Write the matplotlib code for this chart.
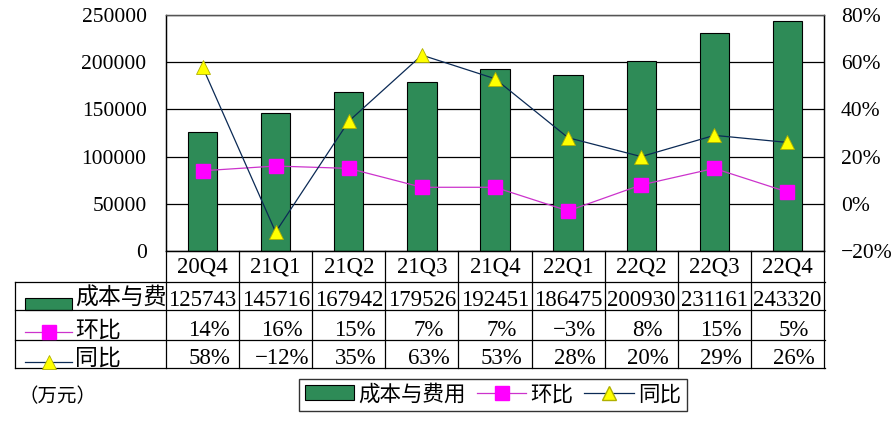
import matplotlib
matplotlib.use("Agg")
import matplotlib.pyplot as plt
import matplotlib.transforms as mtransforms
from matplotlib.lines import Line2D
from matplotlib.patches import Patch, Rectangle

plt.rcParams['font.family'] = ['Liberation Serif', 'Noto Sans CJK SC', 'DejaVu Sans']

quarters = ["20Q4", "21Q1", "21Q2", "21Q3", "21Q4", "22Q1", "22Q2", "22Q3", "22Q4"]
cost = [125743, 145716, 167942, 179526, 192451, 186475, 200930, 231161, 243320]
qoq = [14, 16, 15, 7, 7, -3, 8, 15, 5]
yoy = [58, -12, 35, 63, 53, 28, 20, 29, 26]
left_ticks = [0, 50000, 100000, 150000, 200000, 250000]
right_ticks = [-20, 0, 20, 40, 60, 80]

W, H = 893, 438
BAR_C = "#2E8B57"
QOQ_LINE = "#CC33CC"
QOQ_MARK = "#FF00FF"
YOY_LINE = "#0B2A55"
YOY_MARK = "#FFFF00"
TFS = 16.5

def fx(x): return x / W
def fy(y): return 1 - y / H

fig = plt.figure(figsize=(W / 100, H / 100), dpi=100)
ax = fig.add_axes([fx(166), fy(251), fx(824) - fx(166), fy(15) - fy(251)])
x = list(range(len(quarters)))
ax.bar(x, cost, width=0.4, color=BAR_C, edgecolor="black", linewidth=0.8, zorder=2)
ax.set_xlim(-0.5, len(quarters) - 0.5)
ax.set_ylim(0, 250000)
ax.set_yticks(left_ticks)
ax.set_yticklabels([str(v) for v in left_ticks], fontsize=15.5)
ax.tick_params(axis='y', length=0, pad=14)
ax.set_xticks([])
ax.grid(axis='y', color='black', linewidth=0.9, zorder=0)
for s in ['top', 'right', 'bottom', 'left']:
    ax.spines[s].set_linewidth(0.9)
ax.spines['top'].set_color('#555555')

ax2 = ax.twinx()
ax2.set_ylim(-20, 80)
ax2.set_yticks(right_ticks)
ax2.set_yticklabels([f"{v}%".replace("-", "\u2212") for v in right_ticks], fontsize=15.5)
ax2.tick_params(axis='y', length=0, pad=12)
ax2.plot(x, qoq, color=QOQ_LINE, linewidth=0.9, marker='s', markersize=10,
         markerfacecolor=QOQ_MARK, markeredgecolor=QOQ_MARK, zorder=3)
ax2.plot(x, yoy, color=YOY_LINE, linewidth=0.9, marker='^', markersize=10.5,
         markerfacecolor=YOY_MARK, markeredgecolor="#B0B000", markeredgewidth=0.6, zorder=3)
for s in ['top', 'right', 'bottom', 'left']:
    ax2.spines[s].set_linewidth(0.9)
ax2.spines['top'].set_color('#555555')

# Table below the chart
tr = mtransforms.blended_transform_factory(ax.transData, fig.transFigure)
n = len(quarters)
lw = 0.9
for k in range(n + 1):
    fig.add_artist(Line2D([k - 0.5, k - 0.5], [fy(251), fy(368)], transform=tr,
                          color='black', linewidth=lw))
fig.add_artist(Line2D([fx(15), fx(15)], [fy(282), fy(368)], transform=fig.transFigure,
                      color='black', linewidth=lw))
for yy in [282, 310, 340, 368]:
    fig.add_artist(Line2D([fx(15), fx(825)], [fy(yy), fy(yy)], transform=fig.transFigure,
                          color='black', linewidth=lw))

for i, q in enumerate(quarters):
    fig.text(i, fy(267), q, transform=tr, ha='center', va='center', fontsize=TFS)
    fig.text(i, fy(300), str(cost[i]), transform=tr, ha='center', va='center', fontsize=TFS)
    fig.text(i + 0.09, fy(331), f"{qoq[i]}%".replace("-", "\u2212"), transform=tr,
             ha='center', va='center', fontsize=TFS)
    fig.text(i + 0.09, fy(359), f"{yoy[i]}%".replace("-", "\u2212"), transform=tr,
             ha='center', va='center', fontsize=TFS)

# row labels with keys
fig.add_artist(Rectangle((fx(25), fy(310)), fx(72) - fx(25), fy(298) - fy(310),
                         transform=fig.transFigure, facecolor=BAR_C, edgecolor='black', linewidth=0.8))
fig.text(fx(75), fy(299), "成本与费", ha='left', va='center', fontsize=TFS)
fig.add_artist(Line2D([fx(25), fx(48.5), fx(72)], [fy(332), fy(332), fy(332)], transform=fig.transFigure,
                      color=QOQ_LINE, linewidth=0.9, marker='s', markevery=[1],
                      markersize=10, markerfacecolor=QOQ_MARK, markeredgecolor=QOQ_MARK))
fig.text(fx(75), fy(331), "环比", ha='left', va='center', fontsize=TFS)
fig.add_artist(Line2D([fx(25), fx(48.5), fx(72)], [fy(362), fy(362), fy(362)], transform=fig.transFigure,
                      color=YOY_LINE, linewidth=0.9, marker='^', markevery=[1],
                      markersize=10.5, markerfacecolor=YOY_MARK, markeredgecolor="#B0B000",
                      markeredgewidth=0.6))
fig.text(fx(75), fy(359), "同比", ha='left', va='center', fontsize=TFS)

fig.text(fx(18), fy(397), "（万元）", ha='left', va='center', fontsize=14)

handles = [
    Patch(facecolor=BAR_C, edgecolor='black', linewidth=0.8, label="成本与费用"),
    Line2D([], [], color=QOQ_LINE, linewidth=0.9, marker='s', markersize=10,
           markerfacecolor=QOQ_MARK, markeredgecolor=QOQ_MARK, label="环比"),
    Line2D([], [], color=YOY_LINE, linewidth=0.9, marker='^', markersize=10.5,
           markerfacecolor=YOY_MARK, markeredgecolor="#B0B000", label="同比"),
]
leg = fig.legend(handles=handles, loc='center', bbox_to_anchor=(fx(493), fy(395)),
                 ncol=3, fontsize=15.5, frameon=True, fancybox=False, edgecolor='black',
                 handlelength=2.3, handletextpad=0.2, columnspacing=0.5,
                 borderpad=0.25, borderaxespad=0)
leg.get_frame().set_linewidth(1.0)

fig.savefig("out.png", dpi=100)
